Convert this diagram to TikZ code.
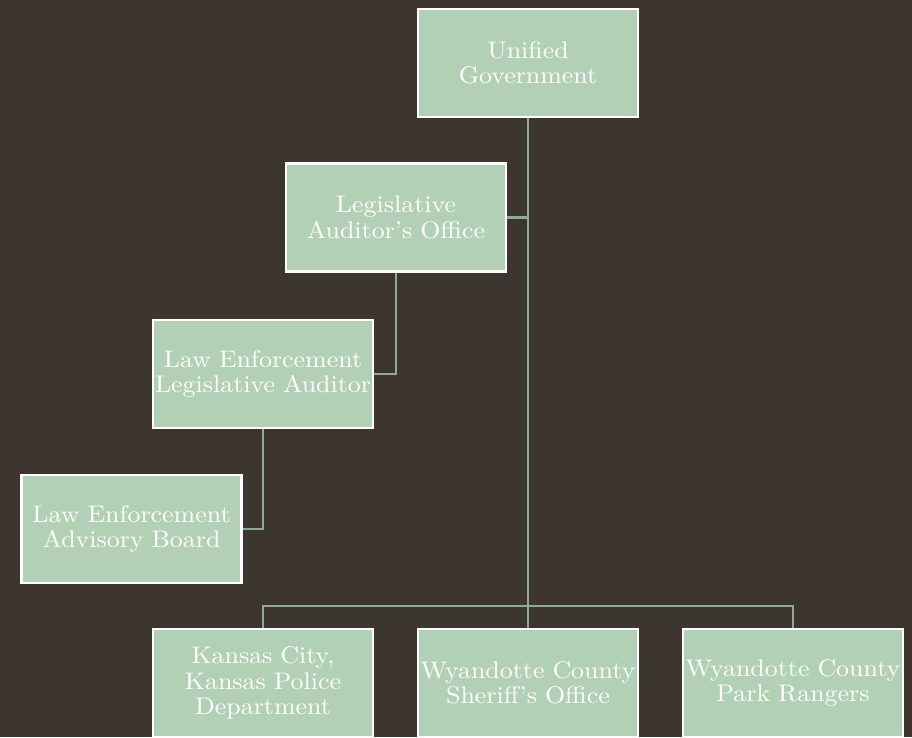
\documentclass[tikz,border=0pt]{standalone}
\usepackage{fontspec}
\setmainfont{lmroman10-regular.otf}[FakeStretch=1.08]
\usetikzlibrary{positioning,calc}
\definecolor{bgbrown}{HTML}{3D362E}
\definecolor{boxgreen}{HTML}{B2D0B6}
\definecolor{linkgreen}{HTML}{8FAB95}
\tikzset{
  orgbox/.style={draw=white,line width=2.2pt,fill=boxgreen,text=white,
    minimum width=220pt,minimum height=108pt,inner sep=0pt,
    text width=218pt,align=center,
    font=\fontsize{24}{25.5}\selectfont},
  link/.style={draw=linkgreen,line width=2.8pt}
}

\begin{document}
\begin{tikzpicture}[x=1pt,y=1pt]
    \fill[bgbrown] (0,0) rectangle (912,-737);
    \useasboundingbox (0,0) rectangle (912,-737);
    \coordinate (bar) at (528,-606);
    % boxes
    \node[orgbox] (ug) at (528,-63) {Unified\\Government};
    \node[orgbox] (lao) at (396,-217.5) {Legislative\\Auditor's Office};
    \node[orgbox] (lela) at (263,-374) {Law Enforcement\\Legislative Auditor};
    \node[orgbox] (leab) at (131.5,-529) {Law Enforcement\\Advisory Board};
    \node[orgbox] (kck) at (263,-683) {Kansas City,\\Kansas Police\\Department};
    \node[orgbox] (wcso) at (528,-683) {Wyandotte County\\Sheriff's Office};
    \node[orgbox] (wcpr) at (793,-683) {Wyandotte County\\Park Rangers};
    % connectors
    \draw[link] (ug.south) -- (bar);
    \draw[link] (lao.east) -- (lao.east -| ug.south);
    \draw[link] (lao.south) |- (lela.east);
    \draw[link] (lela.south) |- (leab.east);
    \draw[link] (kck.north) |- (bar) -| (wcpr.north);
    \draw[link] (bar) -- (wcso.north);
\end{tikzpicture}
\end{document}
